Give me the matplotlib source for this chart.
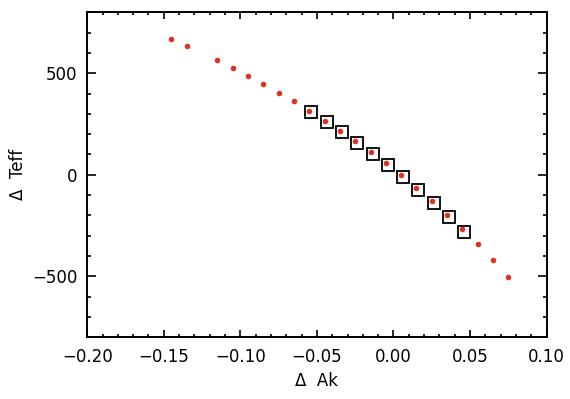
import matplotlib
matplotlib.use("Agg")
import matplotlib.pyplot as plt
from matplotlib.ticker import MultipleLocator

# red points: model grid
dak = [-0.145, -0.135, -0.115, -0.105, -0.095, -0.085, -0.075, -0.065,
       -0.055, -0.045, -0.035, -0.025, -0.015, -0.005, 0.005, 0.015,
       0.025, 0.035, 0.045, 0.055, 0.065, 0.075]
dteff = [668, 635, 565, 527, 488, 448, 405, 361,
         315, 266, 218, 166, 112, 56, -3, -67,
         -131, -197, -268, -343, -422, -504]

# open squares
sq_ak = [-0.0537, -0.0437, -0.0337, -0.0237, -0.0137, -0.0038,
         0.0063, 0.0163, 0.0263, 0.0363, 0.0463]
sq_teff = [308, 258, 209, 157, 104, 47, -12, -77, -139, -207, -280]

plt.rcParams['font.family'] = ['DejaVu Sans']

fig = plt.figure(figsize=(5.70, 3.99), dpi=100)
ax = fig.add_axes([0.153, 0.155, 0.806, 0.814])

ax.plot(sq_ak, sq_teff, 's', ms=8.2, mfc='none', mec='black', mew=1.3)
ax.plot(dak, dteff, 'o', ms=4.0, color='#e0301e', mec='none')

ax.set_xlim(-0.20, 0.10)
ax.set_ylim(-800, 800)
ax.xaxis.set_major_locator(MultipleLocator(0.05))
ax.xaxis.set_minor_locator(MultipleLocator(0.01))
ax.yaxis.set_major_locator(MultipleLocator(500))
ax.yaxis.set_minor_locator(MultipleLocator(100))
ax.set_xticks([-0.20, -0.15, -0.10, -0.05, 0.00, 0.05, 0.10])
ax.set_xticklabels(['\u22120.20', '\u22120.15', '\u22120.10', '\u22120.05', '0.00', '0.05', '0.10'])
ax.set_yticks([-500, 0, 500])
ax.set_yticklabels(['\u2212500', '0', '500'])

ax.tick_params(axis='x', which='major', direction='in', top=True, length=4.7, width=1.2, labelsize=12, pad=8)
ax.tick_params(axis='x', which='minor', direction='in', top=True, length=2.3, width=1.2)
ax.tick_params(axis='y', which='major', direction='in', right=True, length=6.6, width=1.2, labelsize=12, pad=7)
ax.tick_params(axis='y', which='minor', direction='in', right=True, length=3.2, width=1.2)
for s in ax.spines.values():
    s.set_linewidth(1.4)

ax.set_xlabel('\u0394  Ak', fontsize=12, labelpad=4)
ax.set_ylabel('\u0394  Teff', fontsize=12, labelpad=4)

fig.savefig('out.png', dpi=100)
